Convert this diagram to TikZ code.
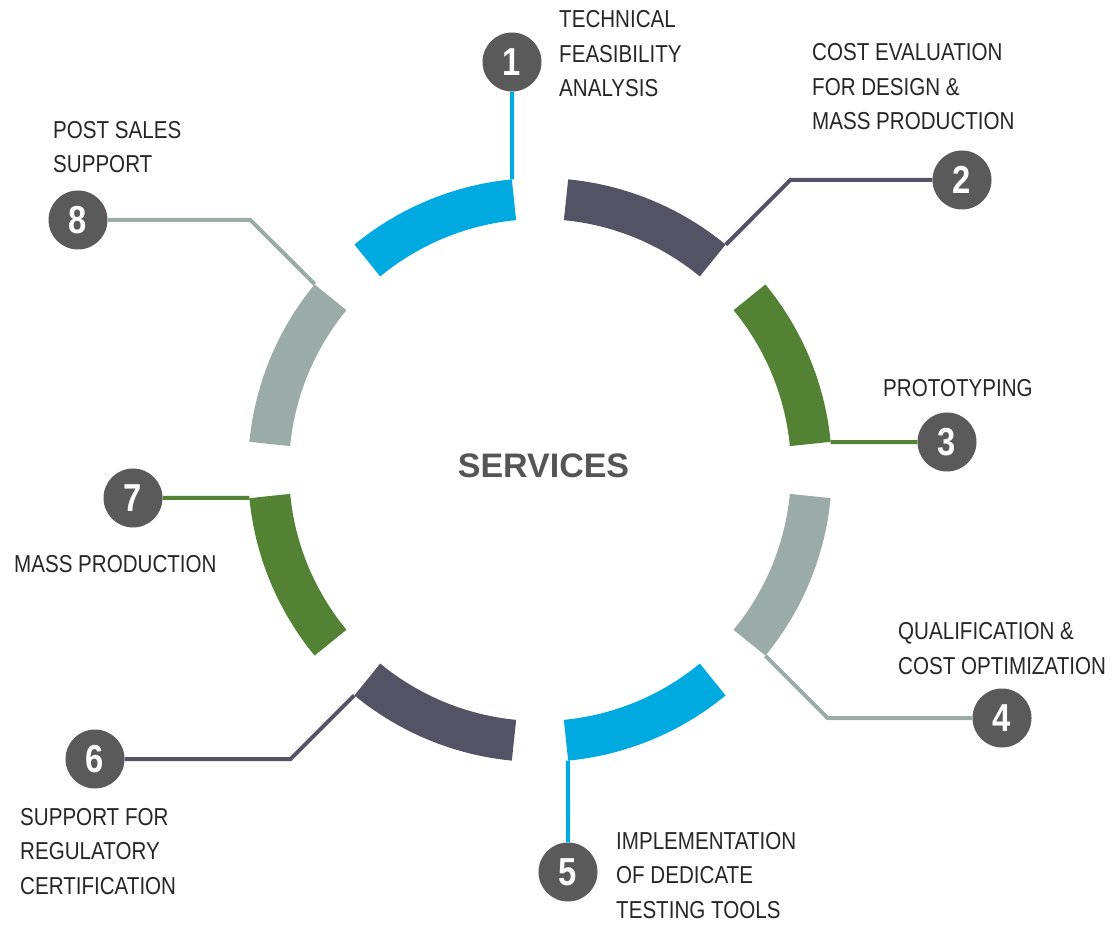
\documentclass[tikz,border=0pt]{standalone}
\usepackage{fontspec}
\setmainfont{Liberation Sans}[FakeStretch=0.84]
\newfontfamily\headfont{Liberation Sans}
\usepackage{xcolor}
\usepackage{tikz}
\usetikzlibrary{calc}
\definecolor{svcBlue}{RGB}{0,169,224}
\definecolor{svcDark}{RGB}{84,83,102}
\definecolor{svcGreen}{RGB}{84,130,53}
\definecolor{svcGray}{RGB}{155,172,168}
\definecolor{svcDot}{RGB}{90,90,90}
\definecolor{svcText}{RGB}{38,38,38}
\definecolor{svcHead}{RGB}{85,85,85}

\begin{document}
\begin{tikzpicture}[x=1pt,y=1pt,
  numdot/.style={circle, fill=svcDot, minimum size=59, inner sep=0, text=white,
    font=\fontsize{39}{39}\selectfont\bfseries},
  svclabel/.style={anchor=base west, align=left, inner sep=0, text=svcText,
    font=\fontsize{24.5}{34.5}\selectfont},
  link/.style={line width=4}]
\useasboundingbox (0,0) rectangle (1115,924);
\coordinate (c) at (540,454);

% outer corners of the ring pieces
\foreach \n/\a in {1/95.5, 2/50.5, 3/5.5, 4/-39.5, 5/-84.5, 6/-129.5, 7/185.5, 8/140.5}
  \coordinate (s\n) at ($(c)+(\a:292)$);

% numbered dots
\node[numdot] (n1) at (512,862) {1};
\node[numdot] (n2) at (962,744) {2};
\node[numdot] (n3) at (947,482) {3};
\node[numdot] (n4) at (1002,206) {4};
\node[numdot] (n5) at (568,52) {5};
\node[numdot] (n6) at (95,165) {6};
\node[numdot] (n7) at (133,426) {7};
\node[numdot] (n8) at (78,704) {8};

% bends
\coordinate (b2) at (790.4,744);
\coordinate (b4) at (827.6,206);
\coordinate (b6) at (290.6,165);
\coordinate (b8) at (250.4,704);

% connectors
\draw[link, svcBlue] (n1) -- (s1);
\draw[link, svcDark] (n2) -- (b2) -- (s2);
\draw[link, svcGreen] (n3) -- (s3);
\draw[link, svcGray] (n4) -- (b4) -- (s4);
\draw[link, svcBlue] (n5) -- (s5);
\draw[link, svcDark] (n6) -- (b6) -- (s6);
\draw[link, svcGreen] (n7) -- (s7);
\draw[link, svcGray] (n8) -- (b8) -- (s8);

% ring
\foreach \a/\col in {95.5/svcBlue, 50.5/svcDark, 5.5/svcGreen, -39.5/svcGray,
    -84.5/svcBlue, -129.5/svcDark, 185.5/svcGreen, 140.5/svcGray}
  \draw[\col, line width=41] ($(c)+(\a:271.5)$) arc[start angle=\a, delta angle=34, radius=271.5];

\node[anchor=base, text=svcHead, font=\headfont\fontsize{34}{34}\selectfont\bfseries] (head) at (543.5,446) {SERVICES};

% labels (anchored at the last baseline)
\node[svclabel] (t1) at (559,827) {TECHNICAL\\FEASIBILITY\\ANALYSIS};
\node[svclabel] (t2) at (812,794) {COST EVALUATION\\FOR DESIGN \&\\MASS PRODUCTION};
\node[svclabel] (t3) at (883,527) {PROTOTYPING};
\node[svclabel] (t4) at (898,250) {QUALIFICATION \&\\COST OPTIMIZATION};
\node[svclabel] (t5) at (616,6) {IMPLEMENTATION\\OF DEDICATE\\TESTING TOOLS};
\node[svclabel] (t6) at (20,30) {SUPPORT FOR\\REGULATORY\\CERTIFICATION};
\node[svclabel] (t7) at (14,352) {MASS PRODUCTION};
\node[svclabel] (t8) at (53,751) {POST SALES\\SUPPORT};
\end{tikzpicture}
\end{document}
